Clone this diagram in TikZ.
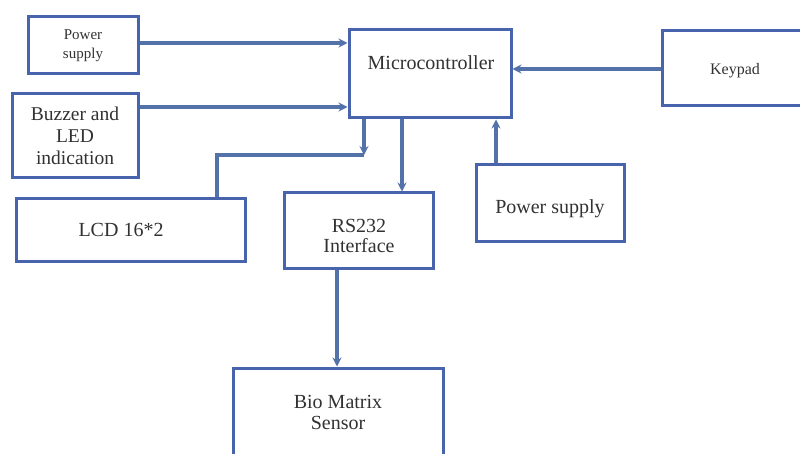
\documentclass[tikz,border=0pt]{standalone}
\usepackage{fontspec}
\setmainfont{Liberation Serif}
\usetikzlibrary{arrows.meta}
\definecolor{boxc}{RGB}{72,100,172}
\definecolor{arrc}{RGB}{84,114,170}
\definecolor{txtc}{RGB}{50,50,50}
\tikzset{
  box/.style={draw=boxc,line width=3pt,rectangle,inner sep=0pt},
  lbl/.style={text=txtc,align=center,inner sep=0pt,font=\fontsize{20}{22}\selectfont},
  arr/.style={draw=arrc,line width=3.4pt,-{Stealth[length=9pt,width=9pt]}},
  ln/.style={draw=arrc,line width=3.4pt}
}
\begin{document}
\begin{tikzpicture}[x=1pt,y=-1pt]
\clip (0,0) rectangle (800,454);
\fill[white] (0,0) rectangle (800,454);
% boxes
\node[box,minimum width=110pt,minimum height=57pt] (ps1) at (83,45) {};
\node[lbl,font=\fontsize{15}{19}\selectfont] (ps1t) at (83,46) {Power\\supply};
\node[box,minimum width=126pt,minimum height=84pt] (buz) at (75,136) {};
\node[lbl,font=\fontsize{19.5}{22}\selectfont] (buzt) at (75,136) {Buzzer and\\LED\\indication};
\node[box,minimum width=229pt,minimum height=63pt] (lcd) at (130.5,230.5) {};
\node[lbl] (lcdt) at (121,230) {LCD 16*2};
\node[box,minimum width=162pt,minimum height=88pt] (mc) at (430,74) {};
\node[lbl] (mct) at (431,63) {Microcontroller};
\node[box,minimum width=149pt,minimum height=76pt] (rs) at (358.5,231) {};
\node[lbl,font=\fontsize{20}{20}\selectfont] (rst) at (359,236) {RS232\\Interface};
\node[box,minimum width=148pt,minimum height=77pt] (ps2) at (550,203.5) {};
\node[lbl] (ps2t) at (550,209) {Power supply};
\node[box,minimum width=150pt,minimum height=75pt] (kp) at (737,68.5) {};
\node[lbl,font=\fontsize{16}{18}\selectfont] (kpt) at (735,71) {Keypad};
\node[box,minimum width=210pt,minimum height=110pt] (bio) at (338,423) {};
\node[lbl,font=\fontsize{20}{21}\selectfont] (biot) at (338,412) {Bio Matrix\\Sensor};
% connectors
\draw[arr] (ps1.east |- 0,43) -- (mc.west |- 0,43);
\draw[arr] (buz.east |- 0,107) -- (mc.west |- 0,107);
\draw[arr] (kp.west |- 0,69) -- (mc.east |- 0,69);
\coordinate (c1) at (364,155);
\coordinate (c2) at (217,155);
\draw[arr] (mc.south -| c1) -- (c1);
\draw[ln] (c1) -- (c2) -- (lcd.north -| c2);
\draw[arr] (mc.south -| 402,0) -- (rs.north -| 402,0);
\draw[arr] (ps2.north -| 496,0) -- (mc.south -| 496,0);
\draw[arr] (rs.south -| 337,0) -- (bio.north -| 337,0);
\end{tikzpicture}
\end{document}
